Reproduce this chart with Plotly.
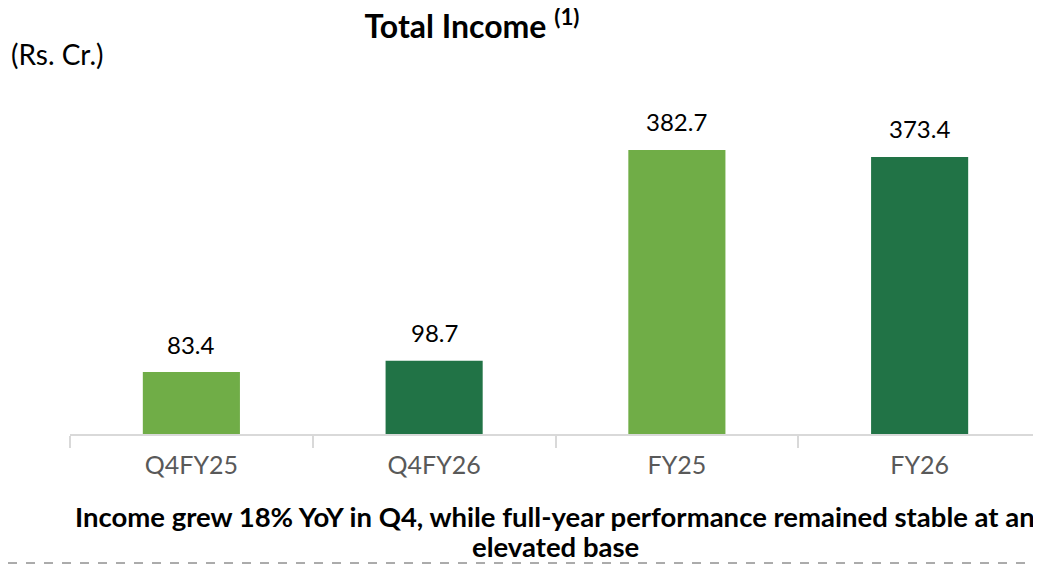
import plotly.graph_objects as go

categories = ["Q4FY25", "Q4FY26", "FY25", "FY26"]
income = [83.4, 98.7, 382.7, 373.4]
bar_colors = ["#70AD47", "#217346", "#70AD47", "#217346"]

title_text = "<b>Total Income <sup>(1)</sup></b>"
unit_text = "(Rs. Cr.)"
footer_lines = ["Income grew 18% YoY in Q4, while full-year performance remained stable at an",
                "elevated base"]

# page body has an 8px margin, so the figure is laid out in window pixels minus 8
OFF = 8
W, H = 1041 - OFF, 565 - OFF
ML, MR, MT, MB = 70 - OFF, 0, 80 - OFF, 565 - 434
plot_h = H - MT - MB


def py(pix):
    # window pixel row -> paper y
    return (H - MB - (pix - OFF)) / plot_h


def px_(pix):
    return (pix - OFF - ML) / (W - ML - MR)


fig = go.Figure()
fig.add_trace(go.Bar(
    x=categories, y=income,
    marker=dict(color=bar_colors, line=dict(width=0)),
    width=0.4,
    showlegend=False,
    hoverinfo="x+y",
))

annotations = []
for cat, val in zip(categories, income):
    annotations.append(dict(
        text=f"{val:.1f}", x=cat, y=val, xref="x", yref="y",
        yanchor="middle", yshift=28, showarrow=False,
        font=dict(family="Lato", size=24, color="#000000"),
    ))

annotations.append(dict(
    text=unit_text, xref="paper", yref="paper", x=px_(9), y=py(54),
    xanchor="left", yanchor="middle", showarrow=False,
    font=dict(family="Lato", size=28, color="#000000"),
))
for line, row in zip(footer_lines, [516, 546]):
    annotations.append(dict(
        text=f"<b>{line}</b>", xref="paper", yref="paper", x=px_(555), y=py(row),
        xanchor="center", yanchor="middle", showarrow=False,
        font=dict(family="Lato", size=27.5, color="#000000"),
    ))

fig.update_layout(
    width=W, height=H,
    margin=dict(l=ML, r=MR, t=MT, b=MB),
    paper_bgcolor="white", plot_bgcolor="white",
    font=dict(family="Lato", color="#000000"),
    title=dict(text=title_text, x=(472 - OFF) / W, xanchor="center",
               y=1 - (27 - OFF) / H, yanchor="middle",
               font=dict(family="Lato", size=32, color="#000000")),
    xaxis=dict(showgrid=False, zeroline=False, showline=True, linecolor="#d9d9d9", linewidth=2,
               ticks="outside", tickson="boundaries", ticklen=12, tickcolor="#d9d9d9", tickwidth=2,
               tickfont=dict(family="Lato", size=25, color="#595959"),
               ticklabelstandoff=8, fixedrange=True),
    yaxis=dict(range=[0, 477], visible=False, fixedrange=True),
    annotations=annotations,
    shapes=[
        dict(type="line", xref="paper", yref="paper", x0=px_(OFF), x1=1, y0=py(563), y1=py(563),
             line=dict(color="#595959", width=1, dash="dash")),
    ],
)

fig.write_html("out.html")
